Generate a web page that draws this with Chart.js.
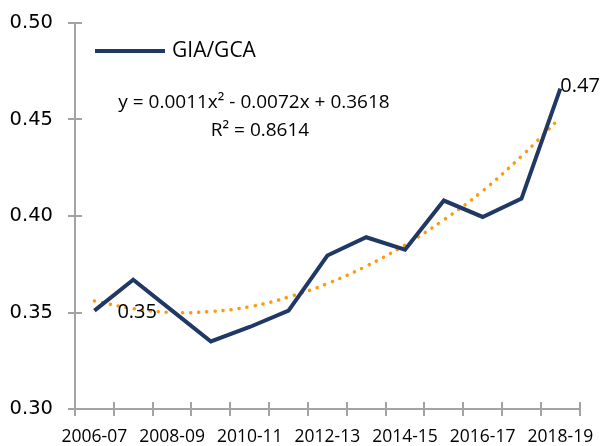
<!DOCTYPE html>
<html>
<head>
<meta charset="utf-8">
<script src="https://cdn.jsdelivr.net/npm/chart.js@4/dist/chart.umd.min.js"></script>
<style>
  html, body { margin: 0; padding: 0; background: #fff; }
  #wrap { width: 605px; height: 446px; }
</style>
</head>
<body>
<div id="wrap"><canvas id="chart" width="605" height="446"></canvas></div>
<script>
const years = ['2006-07', '2007-08', '2008-09', '2009-10', '2010-11', '2011-12', '2012-13',
               '2013-14', '2014-15', '2015-16', '2016-17', '2017-18', '2018-19'];
const giaGca = [0.351, 0.367, 0.351, 0.335, 0.3425, 0.351, 0.3795, 0.389, 0.3825, 0.408, 0.3995, 0.409, 0.466];
const trend = [0.356, 0.352, 0.350, 0.3505, 0.353, 0.358, 0.365, 0.374, 0.385, 0.398, 0.413, 0.431, 0.451];
const yTicks = [0.30, 0.35, 0.40, 0.45, 0.50];
const equation = 'y = 0.0011x\u00B2 - 0.0072x + 0.3618';
const rSquared = 'R\u00B2 = 0.8614';

const axisColor = '#a3a3a3';
const navy = '#203864';
const orange = '#ff9a0c';

// inner half of the cross tick marks + legend, equation and point labels
const extras = {
  id: 'extras',
  afterDraw(chart) {
    const ctx = chart.ctx;
    const area = chart.chartArea;
    const x = chart.scales.x;
    const y = chart.scales.y;
    ctx.save();
    ctx.strokeStyle = axisColor;
    ctx.lineWidth = 2;
    ctx.beginPath();
    yTicks.forEach(v => {
      const py = Math.round(y.getPixelForValue(v));
      ctx.moveTo(area.left, py);
      ctx.lineTo(area.left + 7, py);
    });
    const step = x.getPixelForValue(1) - x.getPixelForValue(0);
    for (let i = 0; i <= years.length; i++) {
      const px = Math.round(x.getPixelForValue(i) - step / 2);
      ctx.moveTo(px, area.bottom);
      ctx.lineTo(px, area.bottom - 7);
    }
    ctx.stroke();

    // legend
    ctx.strokeStyle = navy;
    ctx.lineWidth = 4;
    ctx.beginPath();
    ctx.moveTo(95, 51);
    ctx.lineTo(165, 51);
    ctx.stroke();
    ctx.fillStyle = '#000';
    ctx.textBaseline = 'middle';
    ctx.textAlign = 'left';
    ctx.font = '21px "Open Sans"';
    ctx.fillText('GIA/GCA', 172, 51);

    // trendline equation
    ctx.textAlign = 'center';
    ctx.font = '19px "Open Sans"';
    ctx.fillText(equation, 254, 103);
    ctx.fillText(rSquared, 260, 131);

    // point labels
    const meta = chart.getDatasetMeta(0);
    ctx.textAlign = 'left';
    ctx.font = '20px "Open Sans"';
    const first = meta.data[0];
    ctx.fillText(giaGca[0].toFixed(2), first.x + 23, first.y + 2);
    const last = meta.data[giaGca.length - 1];
    ctx.fillText(giaGca[giaGca.length - 1].toFixed(2), last.x, last.y - 2);
    ctx.restore();
  }
};

new Chart(document.getElementById('chart'), {
  type: 'line',
  data: {
    labels: years,
    datasets: [
      {
        label: 'GIA/GCA',
        data: giaGca,
        borderColor: navy,
        borderWidth: 4,
        pointRadius: 0,
        tension: 0,
        order: 1
      },
      {
        label: 'Trend',
        data: trend,
        borderColor: orange,
        borderWidth: 3.5,
        borderDash: [0.1, 8],
        borderCapStyle: 'round',
        pointRadius: 0,
        tension: 0.4,
        order: 2
      }
    ]
  },
  options: {
    responsive: false,
    animation: false,
    layout: { padding: { top: 23, right: 22, left: 0, bottom: 0 } },
    plugins: {
      legend: { display: false },
      tooltip: { enabled: false }
    },
    scales: {
      x: {
        offset: true,
        grid: { display: true, offset: true, drawOnChartArea: false, tickLength: 7, color: axisColor, lineWidth: 2 },
        border: { display: true, color: axisColor, width: 2 },
        ticks: {
          autoSkip: false,
          maxRotation: 0,
          padding: 11,
          color: '#000',
          font: { family: '"Open Sans"', size: 17.5 },
          callback: function (value, index) { return index % 2 === 0 ? years[index] : ''; }
        },
        afterFit: function (scale) { scale.height = 37; }
      },
      y: {
        min: 0.30,
        max: 0.50,
        afterBuildTicks: function (scale) { scale.ticks = yTicks.map(v => ({ value: v })); },
        grid: { display: true, drawOnChartArea: false, tickLength: 7, color: axisColor, lineWidth: 2 },
        border: { display: true, color: axisColor, width: 2 },
        ticks: {
          padding: 15,
          color: '#000',
          font: { family: '"DejaVu Sans"', size: 19.5 },
          callback: function (value) { return value.toFixed(2); }
        },
        afterFit: function (scale) {
          scale.width = 75;
          scale.paddingTop = 0;
          scale.paddingBottom = 0;
        }
      }
    }
  },
  plugins: [extras]
});
</script>
</body>
</html>
